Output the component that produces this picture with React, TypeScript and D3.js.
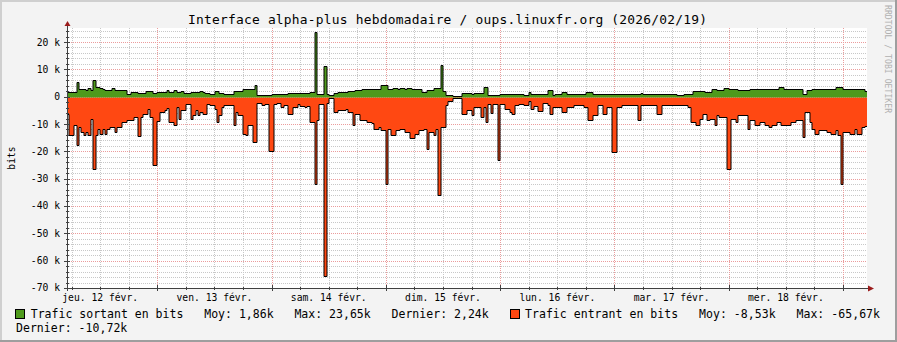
import React from 'react';
import * as d3 from 'd3';

// ---- data (k bits/s), one value per 30 minutes, starting 2026-02-12 05:02 UTC ----
const outK = [
  1.7, 1.7, 1.7, 1.7, 5.4, 2.9, 2.7, 2.7, 2.3, 3.2,
  2.3, 6.0, 3.7, 3.7, 3.2, 2.7, 2.5, 2.3, 2.3, 3.2,
  2.3, 2.3, 2.3, 2.3, 2.3, 1.1, 1.1, 1.7, 1.7, 1.7,
  1.5, 1.5, 1.5, 2.0, 2.0, 2.0, 1.5, 1.5, 1.7, 1.7,
  1.7, 1.7, 2.3, 1.7, 1.7, 2.3, 1.7, 1.7, 2.0, 1.5,
  1.5, 1.5, 1.7, 1.7, 1.7, 1.7, 2.0, 1.7, 1.3, 1.3,
  0.8, 0.8, 2.0, 2.0, 1.5, 1.3, 1.0, 0.9, 0.9, 0.9,
  2.0, 2.0, 2.0, 2.0, 2.7, 2.7, 2.7, 2.7, 2.7, 4.2,
  0.5, 0.5, 0.6, 0.6, 0.7, 0.7, 0.8, 0.8, 0.8, 0.9,
  0.9, 1.0, 1.0, 1.5, 1.5, 1.5, 1.5, 1.5, 1.5, 1.5,
  1.5, 1.5, 1.7, 1.7, 23.65, 1.0, 1.0, 1.0, 11.3, 0.8,
  0.5, 0.5, 1.5, 1.5, 1.7, 1.7, 1.8, 1.8, 2.0, 2.0,
  2.0, 2.3, 2.3, 2.3, 2.7, 2.7, 2.7, 2.7, 2.7, 2.7,
  2.7, 2.7, 4.2, 4.2, 4.3, 2.9, 2.9, 3.0, 3.2, 2.9,
  3.0, 3.0, 2.9, 3.1, 3.0, 2.7, 2.7, 2.7, 2.7, 1.7,
  1.7, 2.5, 2.5, 2.5, 3.2, 3.2, 3.2, 11.5, 2.0, 0.5,
  0.5, 0.5, 0.3, 0.3, 0.3, 0.3, 1.3, 1.2, 1.4, 1.3,
  1.1, 1.5, 1.3, 1.3, 1.4, 3.6, 3.6, 0.7, 0.7, 0.7,
  0.7, 0.7, 1.0, 1.0, 1.0, 1.0, 1.0, 1.0, 1.0, 1.0,
  1.0, 1.0, 0.5, 0.5, 1.6, 1.0, 1.0, 1.0, 1.0, 1.0,
  0.8, 0.8, 2.3, 2.3, 0.5, 1.1, 1.1, 1.1, 1.7, 1.7,
  0.9, 0.9, 0.9, 0.9, 0.9, 0.9, 0.9, 0.9, 1.7, 1.7,
  1.7, 1.1, 1.1, 1.1, 1.1, 1.1, 1.1, 1.1, 1.1, 1.1,
  1.1, 1.1, 0.9, 0.9, 0.9, 0.9, 0.9, 0.9, 0.9, 0.9,
  0.9, 1.3, 0.9, 0.9, 0.9, 0.9, 0.9, 0.9, 1.1, 1.1,
  1.1, 1.1, 1.1, 1.1, 1.1, 1.1, 0.5, 0.5, 0.5, 1.1,
  1.1, 1.1, 1.1, 2.0, 2.0, 2.0, 2.0, 2.0, 1.7, 1.7,
  1.7, 2.9, 2.9, 2.3, 2.3, 2.3, 3.2, 3.2, 2.7, 2.7,
  2.7, 2.7, 2.3, 2.3, 2.3, 2.3, 2.3, 2.9, 2.9, 2.7,
  2.7, 2.7, 2.7, 2.7, 2.7, 2.7, 2.7, 2.7, 2.7, 3.5,
  3.5, 2.9, 2.9, 2.9, 2.9, 2.9, 2.9, 2.9, 2.9, 0.9,
  0.9, 2.3, 2.3, 2.9, 2.9, 2.9, 2.9, 2.9, 2.9, 2.9,
  2.9, 2.9, 2.9, 3.5, 3.5, 3.5, 2.9, 2.9, 2.9, 2.9,
  2.9, 2.9, 2.9, 2.9, 2.9, 2.24,
];
const inK = [
  -6.2, -13.9, -13.9, -10.5, -17.6, -11.1, -12.9, -14.1, -12.9, -13.9,
  -8, -26.3, -13.9, -11.7, -13.5, -11.7, -13.5, -11.7, -11.1, -11.1,
  -12.9, -11.1, -11.1, -9.3, -9.3, -8.6, -8.6, -8.6, -7.4, -7.4,
  -14.4, -7.4, -6.2, -6.2, -4.6, -7.4, -25.1, -25.1, -9, -5.6,
  -5.6, -5.0, -4.1, -9.3, -9.3, -10.2, -3.8, -8, -5.0, -5.0,
  -2.6, -2.6, -8, -6.8, -5, -6.8, -5.6, -6.3, -6.3, -2.6,
  -3.2, -3.2, -4.6, -9.3, -6.8, -3.8, -3.2, -3.2, -3.0, -3.0,
  -10.5, -5.6, -6.8, -6.8, -13.5, -14.1, -10.5, -10.2, -16.4, -16.4,
  -2.2, -2.2, -3.2, -2.6, -2.6, -20, -20, -2.6, -2.2, -2.2,
  -3.8, -3.2, -3.2, -6.2, -6.2, -3.8, -3.8, -2.6, -3.5, -3.5,
  -3.8, -3.5, -9.3, -9.3, -32, -8.6, -2.6, -2.6, -65.67, -2.2,
  -0.5, -0.5, -5.6, -5.6, -5.0, -5.0, -5.0, -4.6, -5.6, -5.6,
  -10.5, -6.2, -6.2, -8.6, -8.6, -8.6, -9.3, -9.3, -9.8, -11.7,
  -11.7, -11.1, -12.3, -12.3, -32, -11.7, -14.1, -14.1, -12.3, -12.3,
  -11.7, -11.7, -12.9, -12.9, -15.3, -15.3, -13.5, -13.5, -12.3, -12.3,
  -11.7, -19.2, -12.9, -12.9, -13.9, -11.7, -36, -11.1, -11.1, -3.2,
  -1.5, -1.5, -0.5, -0.5, -0.5, -0.5, -6.2, -6.2, -5.0, -5.0,
  -6.8, -3.8, -3.8, -3.8, -7.4, -3.8, -9.3, -2.6, -5.9, -2.6,
  -2.6, -23, -2.6, -2.6, -4.6, -4.6, -5.6, -6.5, -3.2, -3.2,
  -2.6, -2.6, -3.2, -3.2, -1.6, -4.6, -3.5, -3.5, -5.3, -5.3,
  -2.2, -2.2, -3.2, -6.2, -3.8, -3.8, -3.8, -3.8, -5.6, -5.6,
  -3.8, -3.8, -3.8, -3.2, -3.2, -3.2, -3.2, -3.8, -3.8, -8.6,
  -8.6, -6.8, -6.8, -2.9, -2.9, -6.2, -6.2, -3.8, -3.8, -20.4,
  -20.4, -3.8, -3.8, -3.2, -3.2, -3.2, -3.2, -3.2, -3.2, -3.2,
  -8.6, -3.2, -3.2, -3.2, -3.2, -3.2, -3.2, -3.2, -6.2, -6.2,
  -3.2, -3.2, -3.2, -3.2, -3.2, -3.2, -3.0, -3.0, -3.0, -3.0,
  -3.0, -3.8, -9.3, -9.3, -10.2, -10.2, -8, -6.2, -6.2, -8.6,
  -8, -8, -10.2, -6.8, -7.4, -7.4, -7.4, -26.5, -26.5, -8,
  -8, -9.3, -6.8, -6.8, -6.8, -6.8, -11.7, -8.6, -8.6, -10.2,
  -10.2, -9.3, -9.3, -10.2, -10.2, -11.1, -10.2, -10.2, -9.3, -9.3,
  -10.2, -10.2, -10.5, -10.5, -9.3, -9.3, -8.6, -8.6, -8.6, -14.8,
  -5.6, -5.6, -9.3, -11.7, -13.5, -13.5, -12.3, -12.3, -12.3, -12.9,
  -12.9, -13.5, -13.5, -12.3, -14.1, -32, -12.9, -12.9, -12.9, -13.5,
  -13.5, -11.7, -13.5, -13.5, -11.1, -10.72,
];

const yMajorTicks = [20, 10, 0, -10, -20, -30, -40, -50, -60, -70];
const yTickLabels = ['20 k', '10 k', '0', '-10 k', '-20 k', '-30 k', '-40 k', '-50 k', '-60 k', '-70 k'];
const dayLabels = ['jeu. 12 févr.', 'ven. 13 févr.', 'sam. 14 févr.', 'dim. 15 févr.', 'lun. 16 févr.', 'mar. 17 févr.', 'mer. 18 févr.'];
const dayNoons = [12, 13, 14, 15, 16, 17, 18].map((d) => new Date(Date.UTC(2026, 1, d, 12, 0)));

const TITLE = 'Interface alpha-plus hebdomadaire / oups.linuxfr.org (2026/02/19)';
const YLABEL = 'bits';
const WATERMARK = 'RRDTOOL / TOBI OETIKER';
const LEGEND_OUT = 'Trafic sortant en bits   Moy: 1,86k   Max: 23,65k   Dernier: 2,24k';
const LEGEND_IN = 'Trafic entrant en bits   Moy: -8,53k   Max: -65,67k';
const LEGEND_IN_2 = 'Dernier: -10,72k';

const COLOR_OUT = '#4e9a1c';
const COLOR_IN = '#ff4812';

const START = new Date(Date.UTC(2026, 1, 12, 5, 2));
const STEP = 30 * 60 * 1000;
const END = new Date(START.getTime() + outK.length * STEP);

const W = 897;
const H = 342;
const PL = 67, PR = 867, PT = 28, PB = 288;
const MONO = '"DejaVu Sans Mono", "Liberation Mono", monospace';

export default function App() {
  const x = d3.scaleUtc().domain([START, END]).range([PL, PR]);
  const y = d3.scaleLinear().domain([-70, 25.13]).range([PB, PT]);

  const toSeries = (arr: number[]) => {
    const pts = arr.map((v, i) => ({ t: new Date(START.getTime() + i * STEP), v }));
    pts.push({ t: END, v: arr[arr.length - 1] });
    return pts;
  };
  const outPts = toSeries(outK);
  const inPts = toSeries(inK);
  const rx = (d: any) => Math.round(x(d.t));
  const ry = (d: any) => Math.round(y(d.v)) + 0.5;
  const y0 = Math.round(y(0)) + 0.5;

  const area = d3.area<any>().x(rx).y0(y0).y1(ry).curve(d3.curveStepAfter);
  const line = d3.line<any>().x(rx).y(ry).curve(d3.curveStepAfter);

  const minorH: number[] = [];
  for (let k = -68; k <= 24; k += 2) if (k % 10 !== 0) minorH.push(k);
  const majorH = yMajorTicks.filter((k) => k > -70);

  const sixH = d3.utcHour.every(6)!.range(START, END);
  const minorV = sixH.filter((d) => d.getUTCHours() !== 0);
  const majorV = sixH.filter((d) => d.getUTCHours() === 0);

  const cx = (v: number) => Math.round(v) + 0.5;

  return (
    <svg width={W} height={H} style={{ position: 'absolute', left: 0, top: 0, display: 'block' }} fontFamily={MONO}>
      <rect x={0} y={0} width={W} height={H} fill="#f3f3f3" />
      {/* frame */}
      <rect x={0} y={0} width={W} height={2} fill="#cfcfcf" />
      <rect x={0} y={0} width={2} height={H} fill="#cfcfcf" />
      <rect x={0} y={H - 2} width={W} height={2} fill="#9e9e9e" />
      <rect x={W - 2} y={0} width={2} height={H} fill="#9e9e9e" />

      {/* canvas */}
      <rect x={PL} y={PT} width={PR - PL} height={PB - PT} fill="#ffffff" />

      {/* grid */}
      {minorH.map((k) => (
        <line key={'mh' + k} x1={PL} x2={PR} y1={cx(y(k))} y2={cx(y(k))} stroke="#c8c8c8" strokeDasharray="1,1" />
      ))}
      {minorV.map((d, i) => (
        <line key={'mv' + i} x1={cx(x(d))} x2={cx(x(d))} y1={PT} y2={PB} stroke="#c8c8c8" strokeDasharray="1,1" />
      ))}
      {majorH.map((k) => (
        <line key={'Mh' + k} x1={PL} x2={PR} y1={cx(y(k))} y2={cx(y(k))} stroke="#eb9c9c" strokeDasharray="1,1" />
      ))}
      {majorV.map((d, i) => (
        <line key={'Mv' + i} x1={cx(x(d))} x2={cx(x(d))} y1={PT} y2={PB} stroke="#eb9c9c" strokeDasharray="1,1" />
      ))}

      {/* data */}
      <path d={area(inPts)!} fill={COLOR_IN} />
      <path d={area(outPts)!} fill={COLOR_OUT} />
      <path d={line(inPts)!} fill="none" stroke="#000" strokeWidth={1} />
      <path d={line(outPts)!} fill="none" stroke="#000" strokeWidth={1} />

      {/* axes */}
      <line x1={cx(PL)} x2={cx(PL)} y1={25} y2={PB + 3} stroke="#404040" />
      <line x1={PL - 3} x2={869} y1={cx(PB)} y2={cx(PB)} stroke="#404040" />
      <path d={`M${PL - 2.5},26 L${PL + 3.5},26 L${PL + 0.5},21 Z`} fill="#9b1c1c" />
      <path d={`M868,${PB - 2.5} L868,${PB + 3.5} L874,${PB + 0.5} Z`} fill="#9b1c1c" />
      {minorH.map((k) => (
        <line key={'tm' + k} x1={PL - 1} x2={PL + 2} y1={cx(y(k))} y2={cx(y(k))} stroke="#404040" />
      ))}
      {yMajorTicks.map((k) => (
        <line key={'tM' + k} x1={PL - 3} x2={PL + 3} y1={cx(y(k))} y2={cx(y(k))} stroke="#404040" />
      ))}
      {minorV.map((d, i) => (
        <line key={'txm' + i} x1={cx(x(d))} x2={cx(x(d))} y1={PB - 1} y2={PB + 2} stroke="#404040" />
      ))}
      {majorV.map((d, i) => (
        <line key={'txM' + i} x1={cx(x(d))} x2={cx(x(d))} y1={PB - 3} y2={PB + 3} stroke="#404040" />
      ))}

      {/* y labels */}
      {yMajorTicks.map((k, i) => (
        <text key={'yl' + k} x={60} y={y(k)} dy="0.36em" textAnchor="end" fontSize={9.7} fill="#000">
          {yTickLabels[i]}
        </text>
      ))}
      {/* x labels */}
      {dayNoons.map((d, i) => (
        <text key={'xl' + i} x={x(d)} y={301} textAnchor="middle" fontSize={9.7} fill="#000">
          {dayLabels[i]}
        </text>
      ))}

      {/* title */}
      <text x={188} y={23.5} fontSize={12.9} fill="#000" textLength={519} lengthAdjust="spacing">
        {TITLE}
      </text>
      {/* y axis label */}
      <text transform={`translate(14.5,${(PT + PB) / 2}) rotate(-90)`} textAnchor="middle" fontSize={9.7} fill="#000">
        {YLABEL}
      </text>
      {/* watermark */}
      <text transform="translate(885,5) rotate(90)" fontSize={8.1} fill="#b0b0b0" textLength={108} lengthAdjust="spacing">
        {WATERMARK}
      </text>

      {/* legend */}
      <rect x={15.5} y={309.5} width={9} height={9} fill={COLOR_OUT} stroke="#000" />
      <text x={30.7} y={318} fontSize={11.5} fill="#000" xmlSpace="preserve" style={{ whiteSpace: 'pre' }} textLength={458} lengthAdjust="spacing">
        {LEGEND_OUT}
      </text>
      <rect x={510.5} y={309.5} width={9} height={9} fill={COLOR_IN} stroke="#000" />
      <text x={525} y={318} fontSize={11.5} fill="#000" xmlSpace="preserve" style={{ whiteSpace: 'pre' }} textLength={355} lengthAdjust="spacing">
        {LEGEND_IN}
      </text>
      <text x={16} y={331.5} fontSize={11.5} fill="#000" xmlSpace="preserve" style={{ whiteSpace: 'pre' }} textLength={111.3} lengthAdjust="spacing">
        {LEGEND_IN_2}
      </text>
    </svg>
  );
}
